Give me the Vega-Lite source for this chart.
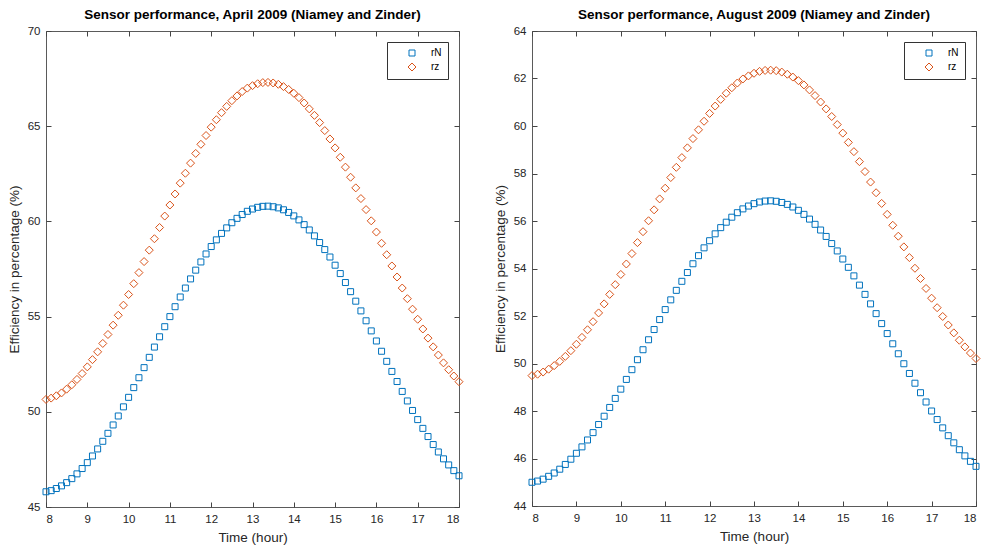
{
"$schema": "https://vega.github.io/schema/vega-lite/v6.json",
"background": "white",
"padding": {"left": 6, "top": 7, "right": 0, "bottom": 0},
"spacing": 26,
"config": {
  "view": {"stroke": "#5a5a5a", "strokeWidth": 1},
  "font": "Liberation Sans",
  "axis": {"domain": false, "grid": false, "tickSize": -5, "tickWidth": 1, "tickColor": "#444444", "labelColor": "#262626", "labelFontSize": 11.5, "labelFont": "Liberation Sans", "titleFont": "Liberation Sans", "titleFontSize": 13.5, "titleFontWeight": "normal", "titleColor": "#262626"},
  "axisX": {"labelPadding": 11, "titlePadding": 6},
  "axisY": {"labelPadding": 11, "titlePadding": 6},
  "title": {"font": "Liberation Sans", "fontSize": 13.5, "fontWeight": "bold", "color": "#000000", "offset": 0},
  "legend": {"orient": "top-right", "offset": 11, "strokeColor": "#333333", "fillColor": "white", "padding": 6, "labelFontSize": 10, "labelColor": "#000000", "labelFont": "Liberation Sans", "symbolOffset": 14, "labelOffset": 14, "rowPadding": 3, "symbolStrokeWidth": 1, "title": null}
},
"datasets": {
"april": [
{"t":8,"s":"rN","v":45.80},{"t":8.125,"s":"rN","v":45.86},{"t":8.25,"s":"rN","v":45.97},{"t":8.375,"s":"rN","v":46.11},{"t":8.5,"s":"rN","v":46.28},{"t":8.625,"s":"rN","v":46.49},{"t":8.75,"s":"rN","v":46.74},{"t":8.875,"s":"rN","v":47.02},{"t":9,"s":"rN","v":47.33},{"t":9.125,"s":"rN","v":47.68},{"t":9.25,"s":"rN","v":48.05},{"t":9.375,"s":"rN","v":48.45},{"t":9.5,"s":"rN","v":48.87},{"t":9.625,"s":"rN","v":49.31},{"t":9.75,"s":"rN","v":49.78},{"t":9.875,"s":"rN","v":50.26},{"t":10,"s":"rN","v":50.76},{"t":10.125,"s":"rN","v":51.27},{"t":10.25,"s":"rN","v":51.79},{"t":10.375,"s":"rN","v":52.32},{"t":10.5,"s":"rN","v":52.86},{"t":10.625,"s":"rN","v":53.40},{"t":10.75,"s":"rN","v":53.94},{"t":10.875,"s":"rN","v":54.47},{"t":11,"s":"rN","v":55.00},{"t":11.125,"s":"rN","v":55.52},{"t":11.25,"s":"rN","v":56.03},{"t":11.375,"s":"rN","v":56.50},{"t":11.5,"s":"rN","v":56.98},{"t":11.625,"s":"rN","v":57.44},{"t":11.75,"s":"rN","v":57.87},{"t":11.875,"s":"rN","v":58.29},{"t":12,"s":"rN","v":58.68},{"t":12.125,"s":"rN","v":59.03},{"t":12.25,"s":"rN","v":59.37},{"t":12.375,"s":"rN","v":59.66},{"t":12.5,"s":"rN","v":59.93},{"t":12.625,"s":"rN","v":60.16},{"t":12.75,"s":"rN","v":60.36},{"t":12.875,"s":"rN","v":60.53},{"t":13,"s":"rN","v":60.65},{"t":13.125,"s":"rN","v":60.74},{"t":13.25,"s":"rN","v":60.79},{"t":13.375,"s":"rN","v":60.80},{"t":13.5,"s":"rN","v":60.77},{"t":13.625,"s":"rN","v":60.71},{"t":13.75,"s":"rN","v":60.61},{"t":13.875,"s":"rN","v":60.47},{"t":14,"s":"rN","v":60.29},{"t":14.125,"s":"rN","v":60.08},{"t":14.25,"s":"rN","v":59.83},{"t":14.375,"s":"rN","v":59.55},{"t":14.5,"s":"rN","v":59.24},{"t":14.625,"s":"rN","v":58.89},{"t":14.75,"s":"rN","v":58.52},{"t":14.875,"s":"rN","v":58.13},{"t":15,"s":"rN","v":57.70},{"t":15.125,"s":"rN","v":57.26},{"t":15.25,"s":"rN","v":56.79},{"t":15.375,"s":"rN","v":56.31},{"t":15.5,"s":"rN","v":55.81},{"t":15.625,"s":"rN","v":55.30},{"t":15.75,"s":"rN","v":54.78},{"t":15.875,"s":"rN","v":54.25},{"t":16,"s":"rN","v":53.72},{"t":16.125,"s":"rN","v":53.18},{"t":16.25,"s":"rN","v":52.65},{"t":16.375,"s":"rN","v":52.12},{"t":16.5,"s":"rN","v":51.59},{"t":16.625,"s":"rN","v":51.07},{"t":16.75,"s":"rN","v":50.57},{"t":16.875,"s":"rN","v":50.07},{"t":17,"s":"rN","v":49.59},{"t":17.125,"s":"rN","v":49.13},{"t":17.25,"s":"rN","v":48.70},{"t":17.375,"s":"rN","v":48.28},{"t":17.5,"s":"rN","v":47.89},{"t":17.625,"s":"rN","v":47.53},{"t":17.75,"s":"rN","v":47.21},{"t":17.875,"s":"rN","v":46.91},{"t":18,"s":"rN","v":46.64},
{"t":8,"s":"rz","v":50.65},{"t":8.125,"s":"rz","v":50.72},{"t":8.25,"s":"rz","v":50.84},{"t":8.375,"s":"rz","v":50.99},{"t":8.5,"s":"rz","v":51.19},{"t":8.625,"s":"rz","v":51.42},{"t":8.75,"s":"rz","v":51.70},{"t":8.875,"s":"rz","v":52.01},{"t":9,"s":"rz","v":52.36},{"t":9.125,"s":"rz","v":52.74},{"t":9.25,"s":"rz","v":53.15},{"t":9.375,"s":"rz","v":53.59},{"t":9.5,"s":"rz","v":54.06},{"t":9.625,"s":"rz","v":54.55},{"t":9.75,"s":"rz","v":55.07},{"t":9.875,"s":"rz","v":55.60},{"t":10,"s":"rz","v":56.16},{"t":10.125,"s":"rz","v":56.73},{"t":10.25,"s":"rz","v":57.31},{"t":10.375,"s":"rz","v":57.89},{"t":10.5,"s":"rz","v":58.49},{"t":10.625,"s":"rz","v":59.09},{"t":10.75,"s":"rz","v":59.68},{"t":10.875,"s":"rz","v":60.28},{"t":11,"s":"rz","v":60.86},{"t":11.125,"s":"rz","v":61.44},{"t":11.25,"s":"rz","v":62.01},{"t":11.375,"s":"rz","v":62.53},{"t":11.5,"s":"rz","v":63.06},{"t":11.625,"s":"rz","v":63.57},{"t":11.75,"s":"rz","v":64.05},{"t":11.875,"s":"rz","v":64.51},{"t":12,"s":"rz","v":64.95},{"t":12.125,"s":"rz","v":65.34},{"t":12.25,"s":"rz","v":65.71},{"t":12.375,"s":"rz","v":66.04},{"t":12.5,"s":"rz","v":66.34},{"t":12.625,"s":"rz","v":66.59},{"t":12.75,"s":"rz","v":66.82},{"t":12.875,"s":"rz","v":67.00},{"t":13,"s":"rz","v":67.13},{"t":13.125,"s":"rz","v":67.23},{"t":13.25,"s":"rz","v":67.29},{"t":13.375,"s":"rz","v":67.30},{"t":13.5,"s":"rz","v":67.27},{"t":13.625,"s":"rz","v":67.20},{"t":13.75,"s":"rz","v":67.08},{"t":13.875,"s":"rz","v":66.93},{"t":14,"s":"rz","v":66.73},{"t":14.125,"s":"rz","v":66.50},{"t":14.25,"s":"rz","v":66.22},{"t":14.375,"s":"rz","v":65.91},{"t":14.5,"s":"rz","v":65.57},{"t":14.625,"s":"rz","v":65.19},{"t":14.75,"s":"rz","v":64.77},{"t":14.875,"s":"rz","v":64.33},{"t":15,"s":"rz","v":63.86},{"t":15.125,"s":"rz","v":63.37},{"t":15.25,"s":"rz","v":62.85},{"t":15.375,"s":"rz","v":62.32},{"t":15.5,"s":"rz","v":61.76},{"t":15.625,"s":"rz","v":61.20},{"t":15.75,"s":"rz","v":60.62},{"t":15.875,"s":"rz","v":60.03},{"t":16,"s":"rz","v":59.44},{"t":16.125,"s":"rz","v":58.85},{"t":16.25,"s":"rz","v":58.25},{"t":16.375,"s":"rz","v":57.66},{"t":16.5,"s":"rz","v":57.08},{"t":16.625,"s":"rz","v":56.50},{"t":16.75,"s":"rz","v":55.94},{"t":16.875,"s":"rz","v":55.39},{"t":17,"s":"rz","v":54.86},{"t":17.125,"s":"rz","v":54.35},{"t":17.25,"s":"rz","v":53.87},{"t":17.375,"s":"rz","v":53.41},{"t":17.5,"s":"rz","v":52.98},{"t":17.625,"s":"rz","v":52.57},{"t":17.75,"s":"rz","v":52.21},{"t":17.875,"s":"rz","v":51.88},{"t":18,"s":"rz","v":51.58}
],
"august": [
{"t":8,"s":"rN","v":45.00},{"t":8.125,"s":"rN","v":45.05},{"t":8.25,"s":"rN","v":45.13},{"t":8.375,"s":"rN","v":45.25},{"t":8.5,"s":"rN","v":45.39},{"t":8.625,"s":"rN","v":45.55},{"t":8.75,"s":"rN","v":45.75},{"t":8.875,"s":"rN","v":45.97},{"t":9,"s":"rN","v":46.22},{"t":9.125,"s":"rN","v":46.49},{"t":9.25,"s":"rN","v":46.78},{"t":9.375,"s":"rN","v":47.09},{"t":9.5,"s":"rN","v":47.43},{"t":9.625,"s":"rN","v":47.78},{"t":9.75,"s":"rN","v":48.15},{"t":9.875,"s":"rN","v":48.53},{"t":10,"s":"rN","v":48.92},{"t":10.125,"s":"rN","v":49.33},{"t":10.25,"s":"rN","v":49.74},{"t":10.375,"s":"rN","v":50.16},{"t":10.5,"s":"rN","v":50.58},{"t":10.625,"s":"rN","v":51.00},{"t":10.75,"s":"rN","v":51.43},{"t":10.875,"s":"rN","v":51.85},{"t":11,"s":"rN","v":52.27},{"t":11.125,"s":"rN","v":52.68},{"t":11.25,"s":"rN","v":53.08},{"t":11.375,"s":"rN","v":53.46},{"t":11.5,"s":"rN","v":53.83},{"t":11.625,"s":"rN","v":54.20},{"t":11.75,"s":"rN","v":54.54},{"t":11.875,"s":"rN","v":54.87},{"t":12,"s":"rN","v":55.17},{"t":12.125,"s":"rN","v":55.46},{"t":12.25,"s":"rN","v":55.72},{"t":12.375,"s":"rN","v":55.95},{"t":12.5,"s":"rN","v":56.16},{"t":12.625,"s":"rN","v":56.35},{"t":12.75,"s":"rN","v":56.51},{"t":12.875,"s":"rN","v":56.63},{"t":13,"s":"rN","v":56.73},{"t":13.125,"s":"rN","v":56.80},{"t":13.25,"s":"rN","v":56.84},{"t":13.375,"s":"rN","v":56.85},{"t":13.5,"s":"rN","v":56.83},{"t":13.625,"s":"rN","v":56.78},{"t":13.75,"s":"rN","v":56.70},{"t":13.875,"s":"rN","v":56.59},{"t":14,"s":"rN","v":56.45},{"t":14.125,"s":"rN","v":56.28},{"t":14.25,"s":"rN","v":56.08},{"t":14.375,"s":"rN","v":55.86},{"t":14.5,"s":"rN","v":55.62},{"t":14.625,"s":"rN","v":55.35},{"t":14.75,"s":"rN","v":55.05},{"t":14.875,"s":"rN","v":54.74},{"t":15,"s":"rN","v":54.40},{"t":15.125,"s":"rN","v":54.05},{"t":15.25,"s":"rN","v":53.69},{"t":15.375,"s":"rN","v":53.30},{"t":15.5,"s":"rN","v":52.91},{"t":15.625,"s":"rN","v":52.51},{"t":15.75,"s":"rN","v":52.10},{"t":15.875,"s":"rN","v":51.68},{"t":16,"s":"rN","v":51.26},{"t":16.125,"s":"rN","v":50.83},{"t":16.25,"s":"rN","v":50.41},{"t":16.375,"s":"rN","v":49.99},{"t":16.5,"s":"rN","v":49.58},{"t":16.625,"s":"rN","v":49.17},{"t":16.75,"s":"rN","v":48.77},{"t":16.875,"s":"rN","v":48.38},{"t":17,"s":"rN","v":48.00},{"t":17.125,"s":"rN","v":47.64},{"t":17.25,"s":"rN","v":47.29},{"t":17.375,"s":"rN","v":46.96},{"t":17.5,"s":"rN","v":46.66},{"t":17.625,"s":"rN","v":46.37},{"t":17.75,"s":"rN","v":46.11},{"t":17.875,"s":"rN","v":45.88},{"t":18,"s":"rN","v":45.67},
{"t":8,"s":"rz","v":49.49},{"t":8.125,"s":"rz","v":49.55},{"t":8.25,"s":"rz","v":49.64},{"t":8.375,"s":"rz","v":49.76},{"t":8.5,"s":"rz","v":49.91},{"t":8.625,"s":"rz","v":50.09},{"t":8.75,"s":"rz","v":50.30},{"t":8.875,"s":"rz","v":50.54},{"t":9,"s":"rz","v":50.81},{"t":9.125,"s":"rz","v":51.10},{"t":9.25,"s":"rz","v":51.42},{"t":9.375,"s":"rz","v":51.76},{"t":9.5,"s":"rz","v":52.13},{"t":9.625,"s":"rz","v":52.51},{"t":9.75,"s":"rz","v":52.91},{"t":9.875,"s":"rz","v":53.32},{"t":10,"s":"rz","v":53.75},{"t":10.125,"s":"rz","v":54.19},{"t":10.25,"s":"rz","v":54.63},{"t":10.375,"s":"rz","v":55.09},{"t":10.5,"s":"rz","v":55.55},{"t":10.625,"s":"rz","v":56.01},{"t":10.75,"s":"rz","v":56.47},{"t":10.875,"s":"rz","v":56.93},{"t":11,"s":"rz","v":57.38},{"t":11.125,"s":"rz","v":57.83},{"t":11.25,"s":"rz","v":58.26},{"t":11.375,"s":"rz","v":58.67},{"t":11.5,"s":"rz","v":59.08},{"t":11.625,"s":"rz","v":59.47},{"t":11.75,"s":"rz","v":59.84},{"t":11.875,"s":"rz","v":60.20},{"t":12,"s":"rz","v":60.53},{"t":12.125,"s":"rz","v":60.84},{"t":12.25,"s":"rz","v":61.12},{"t":12.375,"s":"rz","v":61.38},{"t":12.5,"s":"rz","v":61.61},{"t":12.625,"s":"rz","v":61.81},{"t":12.75,"s":"rz","v":61.98},{"t":12.875,"s":"rz","v":62.11},{"t":13,"s":"rz","v":62.22},{"t":13.125,"s":"rz","v":62.30},{"t":13.25,"s":"rz","v":62.34},{"t":13.375,"s":"rz","v":62.35},{"t":13.5,"s":"rz","v":62.33},{"t":13.625,"s":"rz","v":62.27},{"t":13.75,"s":"rz","v":62.18},{"t":13.875,"s":"rz","v":62.06},{"t":14,"s":"rz","v":61.91},{"t":14.125,"s":"rz","v":61.73},{"t":14.25,"s":"rz","v":61.52},{"t":14.375,"s":"rz","v":61.28},{"t":14.5,"s":"rz","v":61.01},{"t":14.625,"s":"rz","v":60.72},{"t":14.75,"s":"rz","v":60.40},{"t":14.875,"s":"rz","v":60.06},{"t":15,"s":"rz","v":59.70},{"t":15.125,"s":"rz","v":59.31},{"t":15.25,"s":"rz","v":58.92},{"t":15.375,"s":"rz","v":58.50},{"t":15.5,"s":"rz","v":58.08},{"t":15.625,"s":"rz","v":57.64},{"t":15.75,"s":"rz","v":57.19},{"t":15.875,"s":"rz","v":56.74},{"t":16,"s":"rz","v":56.28},{"t":16.125,"s":"rz","v":55.82},{"t":16.25,"s":"rz","v":55.36},{"t":16.375,"s":"rz","v":54.91},{"t":16.5,"s":"rz","v":54.46},{"t":16.625,"s":"rz","v":54.01},{"t":16.75,"s":"rz","v":53.58},{"t":16.875,"s":"rz","v":53.16},{"t":17,"s":"rz","v":52.75},{"t":17.125,"s":"rz","v":52.35},{"t":17.25,"s":"rz","v":51.98},{"t":17.375,"s":"rz","v":51.62},{"t":17.5,"s":"rz","v":51.29},{"t":17.625,"s":"rz","v":50.98},{"t":17.75,"s":"rz","v":50.70},{"t":17.875,"s":"rz","v":50.44},{"t":18,"s":"rz","v":50.21}
]
},
"resolve": {"legend": {"color": "independent", "shape": "independent", "size": "independent"}, "scale": {"color": "independent", "shape": "independent", "size": "independent"}},
"hconcat": [
{
  "width": 413, "height": 476,
  "title": {"text": "Sensor performance, April 2009 (Niamey and Zinder)"},
  "data": {"name": "april"},
  "layer": [
    {"mark": {"type": "point", "filled": false, "strokeWidth": 1, "opacity": 1},
     "encoding": {
       "x": {"field": "t", "type": "quantitative", "scale": {"domain": [8, 18], "nice": false, "zero": false}, "axis": {"values": [8,9,10,11,12,13,14,15,16,17,18], "title": "Time (hour)"}},
       "y": {"field": "v", "type": "quantitative", "scale": {"domain": [45, 70], "nice": false, "zero": false}, "axis": {"values": [45,50,55,60,65,70], "title": "Efficiency in percentage (%)"}},
       "color": {"field": "s", "type": "nominal", "scale": {"domain": ["rN", "rz"], "range": ["#0072BD", "#D95319"]}},
       "shape": {"field": "s", "type": "nominal", "scale": {"domain": ["rN", "rz"], "range": ["square", "diamond"]}},
       "size": {"field": "s", "type": "nominal", "scale": {"domain": ["rN", "rz"], "range": [36, 64]}}
     }},
    {"mark": {"type": "point", "opacity": 0},
     "encoding": {
       "x": {"field": "t", "type": "quantitative", "axis": {"orient": "top", "labels": false, "title": null, "values": [8,9,10,11,12,13,14,15,16,17,18]}},
       "y": {"field": "v", "type": "quantitative", "axis": {"orient": "right", "labels": false, "title": null, "values": [45,50,55,60,65,70]}}
     }}
  ],
  "resolve": {"axis": {"x": "independent", "y": "independent"}}
},
{
  "width": 444, "height": 475,
  "title": {"text": "Sensor performance, August 2009 (Niamey and Zinder)"},
  "data": {"name": "august"},
  "layer": [
    {"mark": {"type": "point", "filled": false, "strokeWidth": 1, "opacity": 1},
     "encoding": {
       "x": {"field": "t", "type": "quantitative", "scale": {"domain": [8, 18], "nice": false, "zero": false}, "axis": {"values": [8,9,10,11,12,13,14,15,16,17,18], "title": "Time (hour)"}},
       "y": {"field": "v", "type": "quantitative", "scale": {"domain": [44, 64], "nice": false, "zero": false}, "axis": {"values": [44,46,48,50,52,54,56,58,60,62,64], "title": "Efficiency in percentage (%)"}},
       "color": {"field": "s", "type": "nominal", "scale": {"domain": ["rN", "rz"], "range": ["#0072BD", "#D95319"]}},
       "shape": {"field": "s", "type": "nominal", "scale": {"domain": ["rN", "rz"], "range": ["square", "diamond"]}},
       "size": {"field": "s", "type": "nominal", "scale": {"domain": ["rN", "rz"], "range": [36, 64]}}
     }},
    {"mark": {"type": "point", "opacity": 0},
     "encoding": {
       "x": {"field": "t", "type": "quantitative", "axis": {"orient": "top", "labels": false, "title": null, "values": [8,9,10,11,12,13,14,15,16,17,18]}},
       "y": {"field": "v", "type": "quantitative", "axis": {"orient": "right", "labels": false, "title": null, "values": [44,46,48,50,52,54,56,58,60,62,64]}}
     }}
  ],
  "resolve": {"axis": {"x": "independent", "y": "independent"}}
}
]
}
